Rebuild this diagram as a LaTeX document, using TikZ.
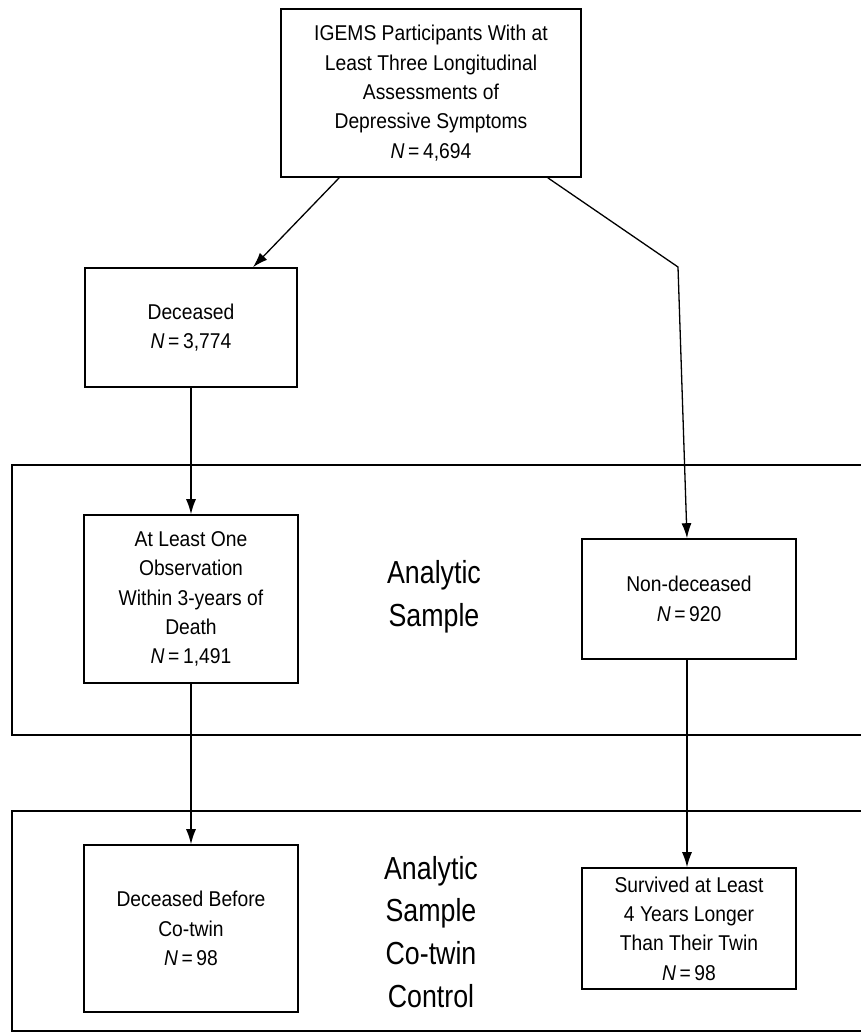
\documentclass[tikz,border=0pt]{standalone}
\usepackage{fontspec}
\setmainfont{Liberation Sans}
\newfontfamily\boxfont{Liberation Sans}[FakeStretch=0.9]
\newfontfamily\groupfont{Liberation Sans}[FakeStretch=0.84]
\usepackage{tikz}
\usetikzlibrary{arrows.meta}

\begin{document}
\begin{tikzpicture}[>={Latex[length=15bp,width=10bp]}, x=1bp, y=-1bp, inner sep=0pt]

	\tikzset{
		stagebox/.style={draw=black, line width=1.6bp, align=center, font=\boxfont\fontsize{21.5}{29.5}\selectfont},
		grouplabel/.style={align=center, font=\groupfont\fontsize{32}{43}\selectfont},
		flow/.style={->, line width=1.3bp}
	}

	\useasboundingbox[fill=white] (0,0) rectangle (861,1036);

	% Gruppen
	\draw[line width=1.6bp] (861,465) -- (12,465) -- (12,735) -- (861,735);
	\draw[line width=1.6bp] (861,811) -- (12,811) -- (12,1031) -- (861,1031);

	\node[stagebox, minimum width=300bp, minimum height=168bp](igems) at (431,93) {IGEMS Participants With at\\Least Three Longitudinal\\Assessments of\\Depressive Symptoms\\\textit{N}\,=\,4,694};

	\node[stagebox, minimum width=212bp, minimum height=119bp](dec) at (191,327.5) {Deceased\\\textit{N}\,=\,3,774};

	\node[stagebox, minimum width=214bp, minimum height=168bp](obs) at (191,599) {At Least One\\Observation\\Within 3-years of\\Death\\\textit{N}\,=\,1,491};
	\node[stagebox, minimum width=214bp, minimum height=120bp](nondec) at (689,599) {Non-deceased\\\textit{N}\,=\,920};

	\node[stagebox, minimum width=214bp, minimum height=167bp](before) at (191,928.5) {Deceased Before\\Co-twin\\\textit{N}\,=\,98};
	\node[stagebox, minimum width=214bp, minimum height=121bp](survived) at (689,928.5) {Survived at Least\\4 Years Longer\\Than Their Twin\\\textit{N}\,=\,98};

	\node[grouplabel](analytic) at (434,597) {Analytic\\Sample};
	\node[grouplabel](cotwin) at (431,932) {Analytic\\Sample\\Co-twin\\Control};

	\coordinate (knick) at (678,267);

	% Pfeile
	\draw[flow] ([xshift=59bp]igems.south west) -- ([xshift=62bp]dec.north);
	\draw[flow] ([xshift=-34bp]igems.south east) -- (knick) -- ([xshift=-2bp]nondec.north);
	\draw[flow] (dec.south) -- (obs.north);
	\draw[flow] (obs.south) -- (before.north);
	\draw[flow] ([xshift=-2bp]nondec.south) -- ([xshift=-2bp]survived.north);
\end{tikzpicture}
\end{document}
